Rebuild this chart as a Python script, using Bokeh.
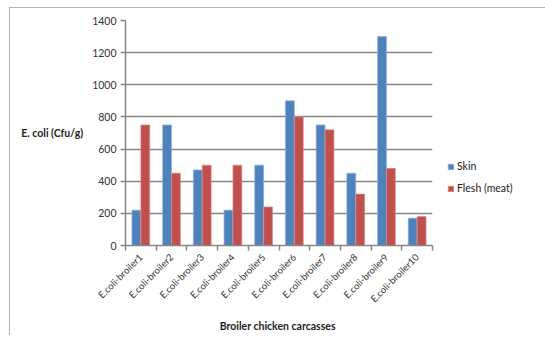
from bokeh.plotting import figure
from bokeh.models import FixedTicker, Legend, LegendItem, Range1d, ColumnDataSource
from bokeh.embed import file_html
from bokeh.resources import INLINE

categories = ["E.coli-broiler1", "E.coli-broiler2", "E.coli-broiler3", "E.coli-broiler4",
              "E.coli-broiler5", "E.coli-broiler6", "E.coli-broiler7", "E.coli-broiler8",
              "E.coli-broiler9", "E.coli-broiler10"]
skin = [220, 750, 470, 220, 500, 900, 750, 450, 1300, 170]
flesh = [750, 450, 500, 500, 240, 800, 720, 320, 480, 180]
y_ticks = [0, 200, 400, 600, 800, 1000, 1200, 1400]

FONT = "Lato"
n = len(categories)
pos = list(range(1, n + 1))

p = figure(frame_width=307, frame_height=225, output_backend="svg", toolbar_location=None,
           x_range=Range1d(0.5, n + 0.5), y_range=Range1d(0, 1400),
           min_border_left=115, min_border_right=104, min_border_top=12, min_border_bottom=88,
           margin=(7, 0, 0, 9),
           styles={"border-top": "1px solid #B4B4B4", "border-left": "1px solid #B4B4B4"})
p.outline_line_color = None
p.background_fill_color = "white"
p.border_fill_color = "white"

bw = 0.29
src = ColumnDataSource(dict(xs=[x - bw / 2 for x in pos], xf=[x + bw / 2 for x in pos],
                            skin=skin, flesh=flesh))
r1 = p.vbar(x="xs", top="skin", width=bw, source=src, fill_color="#4F81BD",
            line_color="#8FB0DA", line_width=0.7)
r2 = p.vbar(x="xf", top="flesh", width=bw, source=src, fill_color="#C0504D",
            line_color="#DC8F8D", line_width=0.7)

# x axis
p.xaxis.ticker = FixedTicker(ticks=pos, minor_ticks=[x + 0.5 for x in range(0, n + 1)])
p.xaxis.major_label_overrides = {i + 1: c for i, c in enumerate(categories)}
p.xaxis.major_label_orientation = 0.785
p.xaxis.major_tick_line_color = None
p.xaxis.minor_tick_in = 0
p.xaxis.minor_tick_out = 5
p.xaxis.minor_tick_line_color = "#868686"
p.xaxis.minor_tick_line_width = 1.5
p.xaxis.axis_line_color = "#868686"
p.xaxis.axis_line_width = 1.5
p.xaxis.major_label_text_font = FONT
p.xaxis.major_label_text_font_size = "9.5px"
p.xaxis.major_label_text_color = "#333333"
p.xaxis.major_label_standoff = 4
p.xaxis.axis_label = "Broiler chicken  carcasses"
p.xaxis.axis_label_text_font = FONT
p.xaxis.axis_label_text_font_style = "bold"
p.xaxis.axis_label_text_font_size = "10.5px"
p.xaxis.axis_label_text_color = "#222222"
p.xaxis.axis_label_standoff = 9

# y axis
p.yaxis.ticker = FixedTicker(ticks=y_ticks)
p.yaxis.axis_line_color = "#868686"
p.yaxis.axis_line_width = 1.5
p.yaxis.major_tick_in = 0
p.yaxis.major_tick_out = 5
p.yaxis.major_tick_line_color = "#868686"
p.yaxis.major_tick_line_width = 1.5
p.yaxis.minor_tick_line_color = None
p.yaxis.major_label_text_font = FONT
p.yaxis.major_label_text_font_size = "10.5px"
p.yaxis.major_label_text_color = "#333333"
p.yaxis.major_label_standoff = 4
p.yaxis.axis_label = "E. coli (Cfu/g)"
p.yaxis.axis_label_orientation = "horizontal"
p.yaxis.axis_label_text_font = FONT
p.yaxis.axis_label_text_font_style = "bold"
p.yaxis.axis_label_text_font_size = "10.5px"
p.yaxis.axis_label_text_color = "#222222"
p.yaxis.axis_label_standoff = 6

p.xgrid.grid_line_color = None
p.ygrid.ticker = FixedTicker(ticks=y_ticks)
p.ygrid.grid_line_color = "#868686"
p.ygrid.grid_line_width = 1.5

legend = Legend(items=[LegendItem(label="Skin", renderers=[r1]),
                       LegendItem(label="Flesh (meat)", renderers=[r2])],
                location=(15, 51), border_line_color=None, background_fill_alpha=0,
                label_text_font=FONT, label_text_font_size="10.5px", label_text_color="#222222",
                glyph_width=7, glyph_height=7, spacing=10, padding=2, label_standoff=3)
p.add_layout(legend, "right")

open("out.html", "w").write(file_html(p, INLINE))
